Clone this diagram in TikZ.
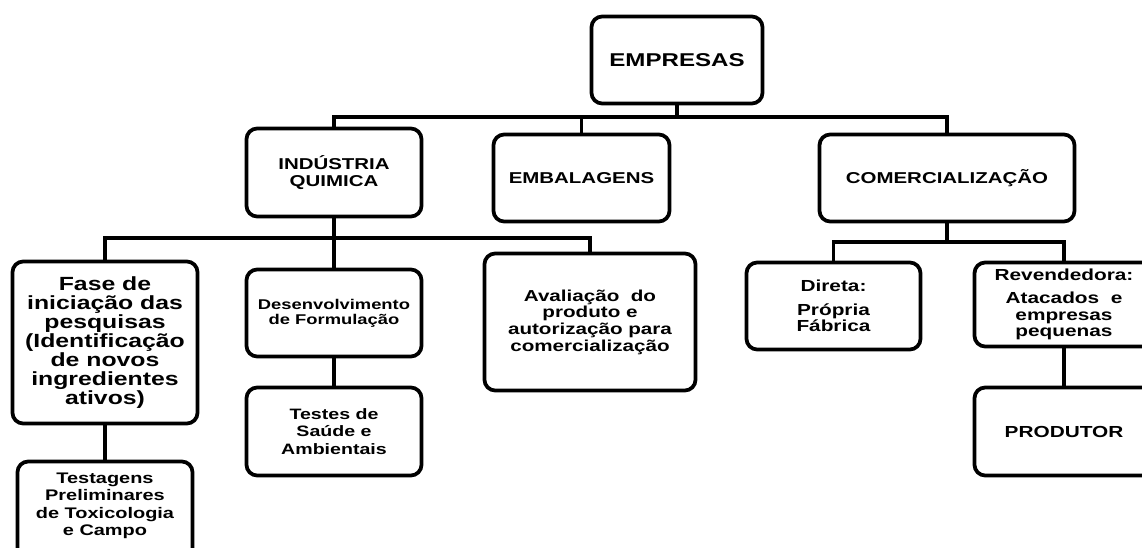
\documentclass[tikz,border=0pt]{standalone}
\usepackage{fontspec}
\setmainfont{Liberation Sans}
\usepackage{graphicx}
\newcommand{\wide}[1]{\scalebox{1.3}[1]{\vbox{\lineskiplimit=-50pt\let\\\cr\halign{\hfil##\hfil\cr#1\crcr}}}}
\tikzset{
  box/.style={draw, line width=2.8pt, rounded corners=8pt, inner sep=0pt},
  fs/.style 2 args={font=\bfseries\fontsize{#1}{#2}\selectfont},
  link/.style={line width=2.8pt}
}

\begin{document}
\begin{tikzpicture}[x=0.75pt, y=-0.75pt]
\useasboundingbox (0,0) rectangle (1142,547);
\clip (0,0) rectangle (1142,547);

\node[box, fs={13.9}{16}, minimum width=128.25pt, minimum height=65.25pt] (emp) at (677,60) {\wide{EMPRESAS}};

\node[box, fs={11.8}{12.75}, minimum width=131.25pt, minimum height=66pt] (ind) at (334,172.5) {\wide{INDÚSTRIA\\QUIMICA}};
\node[box, fs={11.8}{12.75}, minimum width=132pt, minimum height=65.25pt] (emb) at (581.5,178) {\wide{EMBALAGENS}};
\node[box, fs={11.8}{12.75}, minimum width=191.25pt, minimum height=65.25pt] (com) at (947,178) {\wide{COMERCIALIZAÇÃO}};

\node[box, fs={14.3}{14.25}, minimum width=138.75pt, minimum height=121.5pt] (fase) at (105,342.5) {\wide{Fase de\\iniciação das\\pesquisas\\(Identificação\\de novos\\ingredientes\\ativos)}};
\node[box, fs={10.6}{11.25}, minimum width=131.25pt, minimum height=65.25pt] (des) at (334,313) {\wide{Desenvolvimento\\de Formulação}};
\node[box, fs={11.9}{12.5}, minimum width=158.25pt, minimum height=102.75pt] (aval) at (590,322) {\wide{Avaliação~ do\\produto e\\autorização para\\comercialização}};
\node[box, fs={12}{12.5}, minimum width=130.5pt, minimum height=65.25pt] (dir) at (833.5,306) {\wide{Direta:\\\noalign{\kern5pt}Própria\\Fábrica}};
\node[box, fs={12}{12.5}, minimum width=134.25pt, minimum height=63pt] (rev) at (1064,304.5) {\wide{Revendedora:\\\noalign{\kern5pt}Atacados~ e\\empresas\\pequenas}};

\node[box, fs={11.5}{13.1}, minimum width=131.25pt, minimum height=72.75pt] (tstg) at (105,510) {\wide{Testagens\\Preliminares\\de Toxicologia\\e Campo\\\noalign{\kern6pt}}};
\node[box, fs={11.3}{13.1}, minimum width=131.25pt, minimum height=66pt] (tst) at (334,431.5) {\wide{Testes de\\Saúde e\\Ambientais}};
\node[box, fs={12}{13}, minimum width=134.25pt, minimum height=66pt] (prod) at (1064,431.5) {\wide{PRODUTOR}};

\coordinate (b1) at (0,117);
\coordinate (b2) at (0,238);
\coordinate (b3) at (0,242);

\draw[link] (emp.south) -- (emp.south |- b1);
\draw[link] (ind.north) |- (b1 -| com.north) -- (com.north);
\draw[link] (emb.north) -- (emb.north |- b1);

\draw[link] (ind.south) -- (ind.south |- b2);
\draw[link] (fase.north) |- (b2 -| aval.north) -- (aval.north);
\draw[link] (des.north) -- (des.north |- b2);

\draw[link] (com.south) -- (com.south |- b3);
\draw[link] (dir.north) |- (b3 -| rev.north) -- (rev.north);

\draw[link] (fase.south) -- (tstg.north);
\draw[link] (des.south) -- (tst.north);
\draw[link] (rev.south) -- (prod.north);
\end{tikzpicture}
\end{document}
